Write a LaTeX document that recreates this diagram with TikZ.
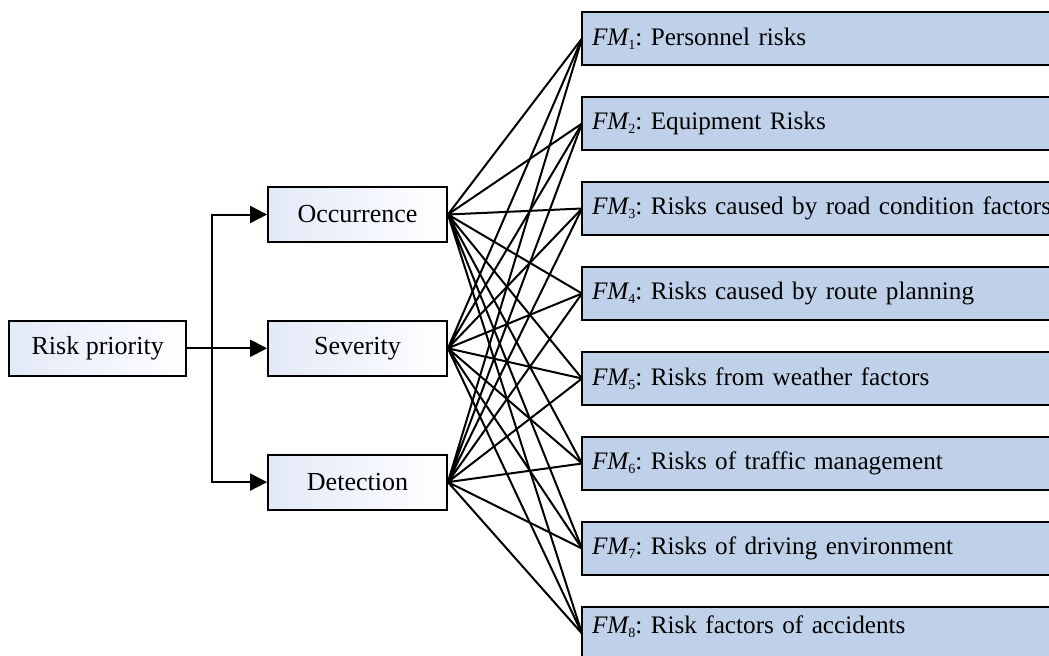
\documentclass[tikz,border=0pt]{standalone}
\usepackage{fontspec}
\setmainfont{Liberation Serif}
\usepackage{tikz}
\usetikzlibrary{arrows.meta,positioning}
\definecolor{fmblue}{RGB}{190,209,233}
\definecolor{critblue}{RGB}{226,233,247}
\newcommand{\fm}[1]{{\itshape FM}\raisebox{-0.35ex}{\fontsize{7}{8}\selectfont #1}}
\frenchspacing

\begin{document}
\begin{tikzpicture}[
  x=0.5pt, y=-0.5pt,
  font=\fontsize{13}{15}\selectfont,
  crit/.style={draw, line width=0.9pt, minimum width=89.5pt,
    minimum height=27.5pt, left color=critblue, right color=white},
  mode/.style={draw, line width=0.9pt, fill=fmblue, text width=290pt,
    align=left, inner xsep=5pt, minimum height=26.5pt, outer sep=0pt,
    font=\fontsize{12.6}{15}\selectfont},
  arr/.style={-{Triangle[length=8.5pt, width=8.5pt]}, line width=1pt},
  link/.style={line width=1pt},
]
\clip (0,0) rectangle (1049,655);
% criteria
\node[crit] (O) at (357.5,214.5) {Occurrence};
\node[crit, below=38.5pt of O] (S) {Severity};
\node[crit, below=38.5pt of S] (D) {Detection};
\node[crit, minimum width=88.5pt, left=40pt of S] (R) {Risk priority};
\coordinate[left=27.5pt of S.west] (J);
% failure modes
\node[mode, anchor=west] (F1) at (582,38.5) {\fm{1}: Personnel risks};
\node[mode, below=16pt of F1] (F2) {\fm{2}: Equipment Risks};
\node[mode, below=16pt of F2] (F3) {\fm{3}: Risks caused by road condition factors};
\node[mode, below=16pt of F3] (F4) {\fm{4}: Risks caused by route planning};
\node[mode, below=16pt of F4] (F5) {\fm{5}: Risks from weather factors};
\node[mode, below=16pt of F5] (F6) {\fm{6}: Risks of traffic management};
\node[mode, below=16pt of F6] (F7) {\fm{7}: Risks of driving environment};
\node[mode, below=16pt of F7, text depth=8.5pt] (F8) {\fm{8}: Risk factors of accidents};
\draw[arr] (R) -- (S);
\draw[arr] (J) |- (O.west);
\draw[arr] (J) |- (D.west);
\draw[link] (O.east) -- (F1.west) (O.east) -- (F2.west) (O.east) -- (F3.west)
  (O.east) -- (F4.west) (O.east) -- (F5.west) (O.east) -- (F6.west)
  (O.east) -- (F7.west) (O.east) -- (F8.west);
\draw[link] (S.east) -- (F1.west) (S.east) -- (F2.west) (S.east) -- (F3.west)
  (S.east) -- (F4.west) (S.east) -- (F5.west) (S.east) -- (F6.west)
  (S.east) -- (F7.west) (S.east) -- (F8.west);
\draw[link] (D.east) -- (F1.west) (D.east) -- (F2.west) (D.east) -- (F3.west)
  (D.east) -- (F4.west) (D.east) -- (F5.west) (D.east) -- (F6.west)
  (D.east) -- (F7.west) (D.east) -- (F8.west);
\end{tikzpicture}
\end{document}
